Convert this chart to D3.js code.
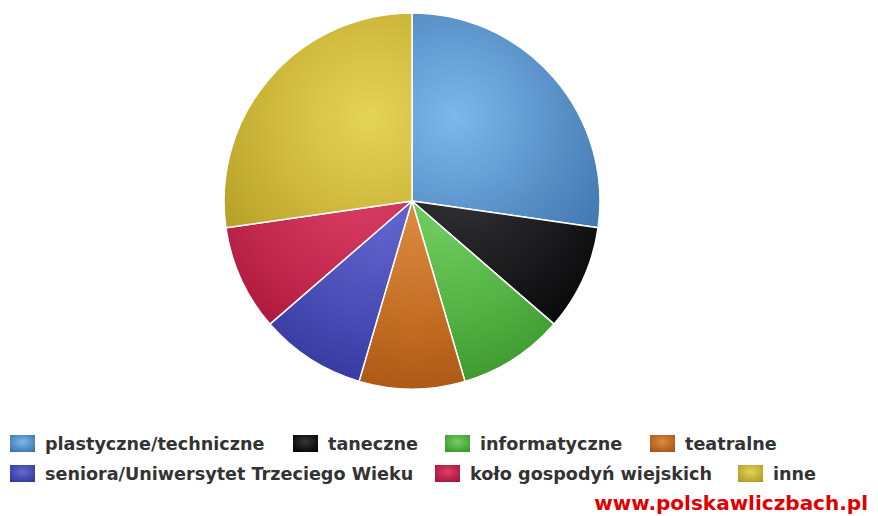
<!DOCTYPE html>
<html>
<head>
<meta charset="utf-8">
<script src="https://cdn.jsdelivr.net/npm/d3@7"></script>
<style>
  body { margin: 0; background: #fff; }
  svg { display: block; }
</style>
</head>
<body>
<div class="d3chart"></div>
<script>
var width = 878,
    height = 516;

// data
var categories = ["plastyczne/techniczne", "taneczne", "informatyczne", "teatralne",
                  "seniora/Uniwersytet Trzeciego Wieku", "koło gospodyń wiejskich", "inne"];
var values = [3, 1, 1, 1, 1, 1, 3];
// [light, base, dark]
var colors = [
  ["#7cb8ec", "#5890c6", "#3b72aa"],
  ["#34343a", "#1a1a1c", "#020202"],
  ["#74d064", "#55b445", "#3a952b"],
  ["#dc8a40", "#c46e24", "#a85412"],
  ["#6468d0", "#4a4eb6", "#32369c"],
  ["#dc4068", "#c42a50", "#a81238"],
  ["#e4d458", "#ccb63a", "#b09a20"]
];
// legend rows (indices into categories) and swatch x per item
var legendRows = [[0, 1, 2, 3], [4, 5, 6]];
var legendX = [[10, 293, 445, 650], [10, 435, 738]];

var cx = 412, cy = 201, r = 188;

var svg = d3.select(".d3chart").append("svg")
    .attr("width", width)
    .attr("height", height);

var defs = svg.append("defs");

var pie = d3.pie().sort(null).value(d => d);
var arcs = pie(values);
var arc = d3.arc().innerRadius(0).outerRadius(r);

// radial gradient per slice (in pie-local coordinates)
arcs.forEach(function(a, i) {
  var mid = (a.startAngle + a.endAngle) / 2;
  var hx = Math.sin(mid) * r * 0.3;
  var hy = -Math.cos(mid) * r * 0.3 - r * 0.25;
  var g = defs.append("radialGradient")
      .attr("id", "grad" + i)
      .attr("gradientUnits", "userSpaceOnUse")
      .attr("cx", hx).attr("cy", hy)
      .attr("r", r * 1.05);
  g.append("stop").attr("offset", "0%").attr("stop-color", colors[i][0]);
  g.append("stop").attr("offset", "55%").attr("stop-color", colors[i][1]);
  g.append("stop").attr("offset", "100%").attr("stop-color", colors[i][2]);
});

// small gradients for legend swatches
colors.forEach(function(c, i) {
  var g = defs.append("radialGradient")
      .attr("id", "sw" + i)
      .attr("cx", "50%").attr("cy", "40%").attr("r", "70%");
  g.append("stop").attr("offset", "0%").attr("stop-color", c[0]);
  g.append("stop").attr("offset", "100%").attr("stop-color", c[2]);
});

svg.append("g")
    .attr("transform", "translate(" + cx + "," + cy + ")")
  .selectAll("path")
  .data(arcs)
  .enter().append("path")
    .attr("d", arc)
    .attr("fill", (d, i) => "url(#grad" + i + ")")
    .attr("stroke", "#fff")
    .attr("stroke-width", 1.5)
    .attr("stroke-linejoin", "round");

// legend
var legend = svg.append("g").attr("class", "legend")
    .style("font-family", "'DejaVu Sans', Verdana, sans-serif")
    .style("font-weight", "bold")
    .style("font-size", "17.6px");

var rowY = [443, 473];
legendRows.forEach(function(row, ri) {
  row.forEach(function(idx, k) {
    var item = legend.append("g")
        .attr("transform", "translate(" + legendX[ri][k] + "," + rowY[ri] + ")");
    item.append("rect")
        .attr("x", 0).attr("y", -8)
        .attr("width", 25).attr("height", 17)
        .attr("fill", "url(#sw" + idx + ")");
    item.append("text")
        .attr("x", 35).attr("y", 7)
        .attr("fill", "#333")
        .text(categories[idx]);
  });
});

svg.append("text")
    .attr("x", 868).attr("y", 510)
    .attr("text-anchor", "end")
    .style("font-family", "'DejaVu Sans', Verdana, sans-serif")
    .style("font-weight", "bold")
    .style("font-size", "20px")
    .attr("fill", "#e00000")
    .text("www.polskawliczbach.pl");
</script>
</body>
</html>
